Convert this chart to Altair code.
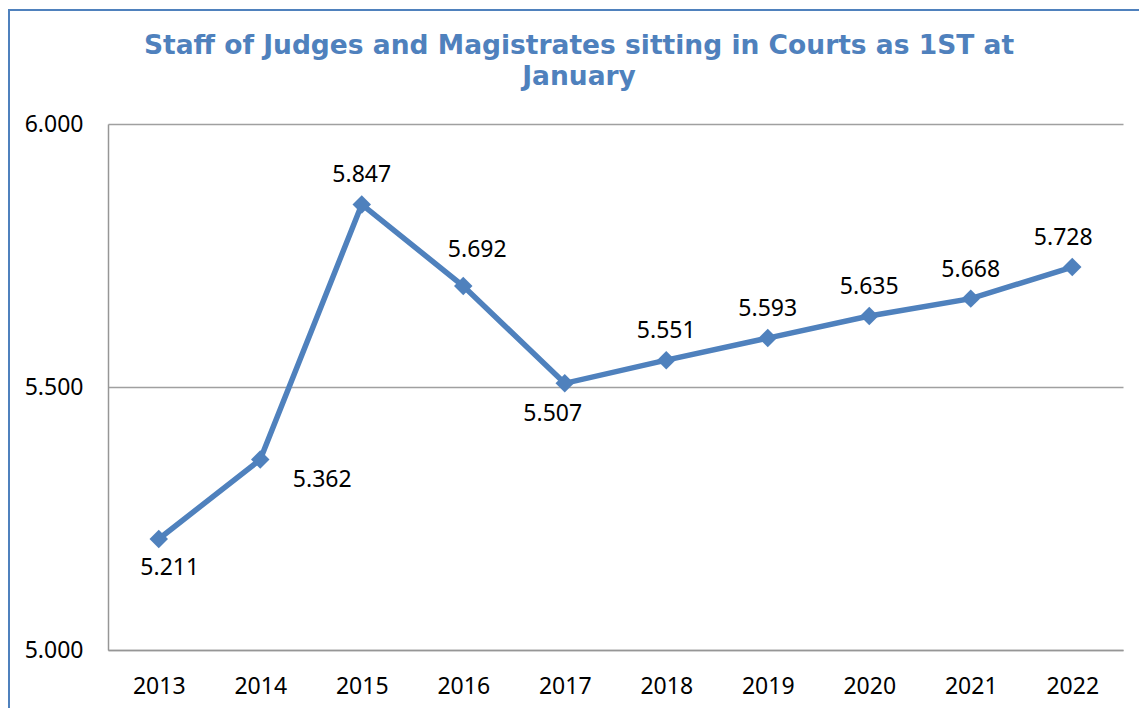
import altair as alt
import pandas as pd

years = ["2013", "2014", "2015", "2016", "2017", "2018", "2019", "2020", "2021", "2022"]
judges = [5211, 5362, 5847, 5692, 5507, 5551, 5593, 5635, 5668, 5728]
label_place = ["below-right", "right", "above", "above-right", "below-left",
               "above", "above", "above", "above", "above-left"]
y_ticks = [5000, 5500, 6000]
title_lines = ["Staff of Judges and Magistrates sitting in Courts as 1ST at", "January"]

df = pd.DataFrame({"year": years, "value": judges, "place": label_place})

BLUE = "#4F81BD"
FONT = "Noto Sans"
W, H = 1015, 526

x_enc = alt.X("year:O", sort=years,
              scale=alt.Scale(type="point", padding=0.5),
              axis=alt.Axis(title=None, labelAngle=0, ticks=False, domain=True,
                            domainColor="#969696", domainWidth=1.5,
                            labelFont=FONT, labelFontSize=23, labelColor="#000000",
                            labelPadding=25, labelBaseline="top"))
y_enc = alt.Y("value:Q", scale=alt.Scale(domain=[5000, 6000], nice=False, zero=False),
              axis=alt.Axis(title=None, values=y_ticks, grid=True, gridColor="#A0A0A0",
                            gridWidth=1.5, ticks=False, domain=True, domainColor="#969696",
                            domainWidth=1.5, labelFont=FONT, labelFontSize=23,
                            labelColor="#000000", labelPadding=25,
                            labelExpr="replace(format(datum.value, ','), ',', '.')"))

base = alt.Chart(df).encode(x=x_enc, y=y_enc)

border = alt.Chart(alt.Data(values=[{"a": 1}])).mark_rect(
    fill="transparent", stroke=BLUE, strokeWidth=2
).encode(x=alt.value(-99), x2=alt.value(W + 200), y=alt.value(-114), y2=alt.value(H + 200))

def title_text(i, y):
    return alt.Chart(alt.Data(values=[{"t": title_lines[i]}])).mark_text(
        font="DejaVu Sans", fontSize=26.5, fontWeight="bold", color=BLUE,
        align="center", baseline="middle"
    ).encode(text="t:N", x=alt.value(471), y=alt.value(y))

line = base.mark_line(color=BLUE, strokeWidth=5.5)
pts = base.mark_point(shape="diamond", filled=True, size=340, color=BLUE, opacity=1)

lab_fmt = "replace(format(datum.value, ','), ',', '.')"

def labels(place, dx, dy):
    return base.transform_filter(alt.datum.place == place).transform_calculate(
        lab=lab_fmt
    ).mark_text(font=FONT, fontSize=23, color="#000000", dx=dx, dy=dy,
                baseline="middle", align="center").encode(text="lab:N")

chart = alt.layer(
    border, title_text(0, -78), title_text(1, -47), line, pts,
    labels("above", 0, -29),
    labels("above-left", -9, -29),
    labels("above-right", 14, -36),
    labels("below-right", 11, 29),
    labels("below-left", -12, 31),
    labels("right", 62, 20),
).properties(
    width=W, height=H,
    autosize=alt.AutoSizeParams(type="none"),
    padding={"left": 100, "top": 116, "right": 16, "bottom": 58},
).configure_view(strokeWidth=0)

chart.save("out.html", embed_options={"renderer": "svg", "actions": False})
